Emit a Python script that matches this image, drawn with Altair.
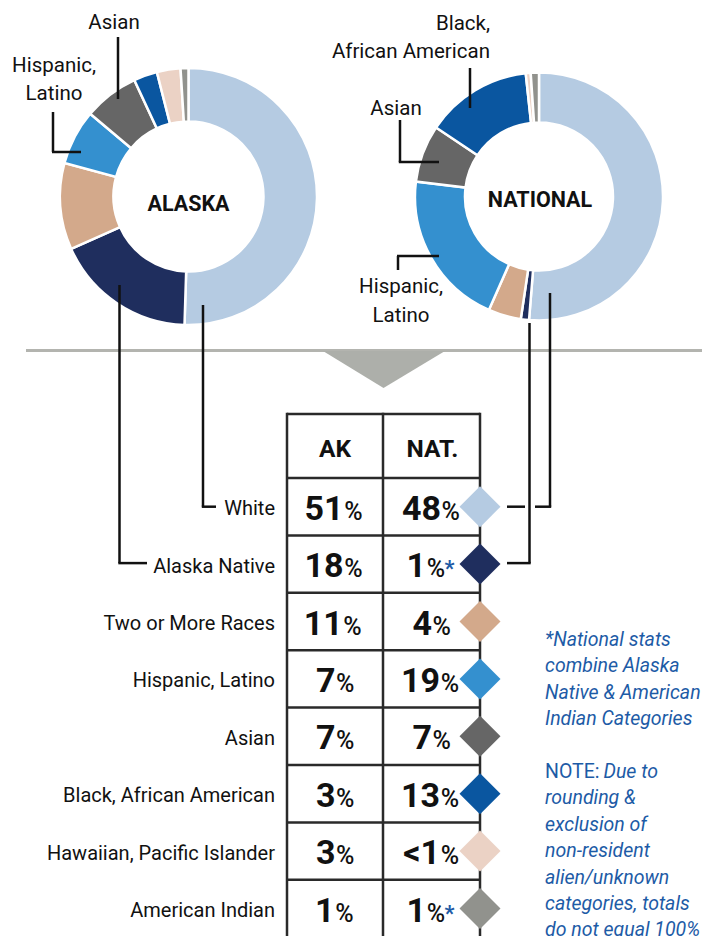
import altair as alt
import pandas as pd

# ---------------- data ----------------
races = ["White", "Alaska Native", "Two or More Races", "Hispanic, Latino", "Asian",
         "Black, African American", "Hawaiian, Pacific Islander", "American Indian"]
ak_pct = [51, 18, 11, 7, 7, 3, 3, 1]
nat_pct = [48, 1, 4, 19, 7, 13, 0.6, 1]
ak_text = ["51", "18", "11", "7", "7", "3", "3", "1"]
nat_text = ["48", "1", "4", "19", "7", "13", "<1", "1"]
nat_star = [False, True, False, False, False, False, False, True]
colors = ["#b5cbe2", "#1f2e5e", "#d3a98b", "#3490cf", "#666666", "#0a56a0", "#ebd2c5", "#91928d"]
headers = ["AK", "NAT."]
note_lines = ["*National stats", "combine Alaska", "Native & American", "Indian Categories", "",
              "NOTE: Due to", "rounding &", "exclusion of", "non-resident", "alien/unknown",
              "categories, totals", "do not equal 100%"]

# ---------------- style / layout ----------------
FONT = "Roboto, sans-serif"
INK = "#111111"
NOTE_BLUE = "#1d5ba6"
GRID = "#2a2a2a"

xs = alt.Scale(domain=[8, 702], nice=False, zero=False)
ys = alt.Scale(domain=[8, 936], reverse=True, nice=False, zero=False)
cs = alt.Scale(domain=races, range=colors)


def X(f):
    return alt.X(f, type="quantitative", scale=xs, axis=None)


def Y(f):
    return alt.Y(f, type="quantitative", scale=ys, axis=None)


def rules(segs, color=INK, width=2.5):
    df = pd.DataFrame(segs, columns=["x", "y", "x2", "y2"])
    return alt.Chart(df).mark_rule(color=color, strokeWidth=width).encode(
        x=X("x"), y=Y("y"), x2="x2:Q", y2="y2:Q")


def texts(rows, **mk):
    df = pd.DataFrame(rows, columns=["x", "y", "t"])
    mk.setdefault("font", FONT)
    mk.setdefault("color", INK)
    mk.setdefault("baseline", "alphabetic")
    return alt.Chart(df).mark_text(**mk).encode(x=X("x"), y=Y("y"), text="t:N")


layers = []

# separator and arrow
layers.append(rules([(26, 350.5, 706, 350.5)], color="#b3b4af", width=3))
tri = pd.DataFrame({"x": [323, 383.5, 445], "y": [351, 351, 351], "y2": [351, 388, 351]})
layers.append(alt.Chart(tri).mark_area(color="#adafaa").encode(x=X("x"), y=Y("y"), y2="y2:Q"))

# donuts
order = list(range(len(races)))
ak_df = pd.DataFrame({"race": races, "v": ak_pct, "o": order, "cx": 188.5, "cy": 196.5})
nat_df = pd.DataFrame({"race": races, "v": nat_pct, "o": order, "cx": 539, "cy": 196.5})
for df, r_in, r_out in [(ak_df, 75, 128.5), (nat_df, 74, 124)]:
    layers.append(alt.Chart(df).mark_arc(innerRadius=r_in, outerRadius=r_out,
                                         stroke="white", strokeWidth=2.5).encode(
        theta=alt.Theta("v:Q", stack=True),
        order=alt.Order("o:Q"),
        color=alt.Color("race:N", scale=cs, legend=None),
        x=X("cx"), y=Y("cy")))

# table
hdr_top, hdr_bot, row_h = 414, 478, 57.4
col_l, col_m, col_r = 287, 383, 480
ak_c, nat_c = (col_l + col_m) / 2, (col_m + col_r) / 2
row_c = [hdr_bot + row_h * (i + 0.5) for i in range(len(races))]
grid = [(col_l, hdr_top, col_r, hdr_top)]
grid += [(col_l, hdr_bot + row_h * i, col_r, hdr_bot + row_h * i) for i in range(len(races) + 1)]
grid += [(c, hdr_top - 1.2, c, 940) for c in (col_l, col_m, col_r)]
layers.append(rules(grid, color=GRID, width=2.5))

# leader lines
lead = [
    (118, 37, 118, 99),                       # AK Asian
    (53, 112, 53, 152), (52, 152, 81, 152),   # AK Hispanic
    (119.5, 285, 119.5, row_c[1] - 1), (118.3, row_c[1] - 1, 147, row_c[1] - 1),   # AK Alaska Native
    (203, 305, 203, row_c[0]), (201.8, row_c[0], 216, row_c[0]),                    # AK White
    (470, 68, 470, 108),                      # NAT Black
    (400, 120, 400, 162), (398.8, 162, 439, 162),   # NAT Asian
    (397, 256, 439, 256), (398, 256, 398, 270),     # NAT Hispanic
    (529.5, 323, 529.5, row_c[1] - 1), (507, row_c[1] - 1, 530.7, row_c[1] - 1),  # NAT Alaska Native
    (550, 293, 550, row_c[0]), (535, row_c[0], 551.2, row_c[0]), (507, row_c[0], 525, row_c[0]),  # NAT White
]
layers.append(rules(lead))

# diamonds
dia = pd.DataFrame({"race": races, "x": col_r, "y": row_c})
layers.append(alt.Chart(dia).mark_point(shape="diamond", filled=True, size=1681, opacity=1).encode(
    x=X("x"), y=Y("y"), color=alt.Color("race:N", scale=cs, legend=None)))

# donut labels
layers.append(texts([(188.5, 211, "ALASKA"), (540, 206.5, "NATIONAL")],
                    fontSize=21.5, fontWeight="bold", align="center"))
layers.append(texts([(114, 28.5, "Asian"), (54, 71.5, "Hispanic,"), (54, 100, "Latino"),
                     (396, 114.5, "Asian"), (401, 293, "Hispanic,"), (401, 322, "Latino")],
                    fontSize=20.5, align="center"))
layers.append(texts([(490, 29.5, "Black,"), (490, 58, "African American")], fontSize=20.5, align="right"))

# header
layers.append(texts([(ak_c, 456.5, headers[0]), (nat_c + 1, 456.5, headers[1])],
                    fontSize=24.5, fontWeight="bold", align="center"))

# row labels
layers.append(texts([(275, c + 8.5, r) for r, c in zip(races, row_c)], fontSize=20, align="right"))

# numbers + percent signs
NUM_FS, PCT_FS = 34, 25
DIG_W, PCT_W, STAR_W = 0.53 * NUM_FS, 0.68 * PCT_FS, 10


def numw(s):
    return sum(DIG_W * (0.9 if ch == "1" else 1.0) for ch in s)


num_rows, pct_rows, star_rows = [], [], []
for i, c in enumerate(row_c):
    for center, s, star in [(ak_c, ak_text[i], False), (nat_c, nat_text[i], nat_star[i])]:
        w = numw(s)
        anchor = center + (w - PCT_W - (STAR_W if star else 0)) / 2
        num_rows.append((anchor, c + 13, s))
        pct_rows.append((anchor + 0.6, c + 13, "%"))
        if star:
            star_rows.append((anchor + PCT_W + 1.5, c + 12, "*"))
layers.append(texts(num_rows, fontSize=NUM_FS, fontWeight="bold", align="right"))
layers.append(texts(pct_rows, fontSize=PCT_FS, fontWeight=500, align="left"))
layers.append(texts(star_rows, fontSize=22, fontWeight="bold", align="left", color=NOTE_BLUE))

# notes
note_x, note_y0, note_dy = 545, 646, 26.4
ital, norm = [], []
for i, line in enumerate(note_lines):
    y = note_y0 + note_dy * i
    if not line:
        continue
    if line.startswith("NOTE:"):
        norm.append((note_x, y, "NOTE:"))
        ital.append((note_x + 58.5, y, line[len("NOTE: "):]))
    else:
        ital.append((note_x, y, line))
layers.append(texts(norm, fontSize=19.5, align="left", color=NOTE_BLUE))
layers.append(texts(ital, fontSize=19.5, fontStyle="italic", align="left", color=NOTE_BLUE))

chart = alt.layer(*layers).resolve_scale(theta="independent").properties(
    width=694, height=928, padding=0, autosize=alt.AutoSizeParams(type="none")
).configure_view(stroke=None)

chart.save("out.html", embed_options={"renderer": "svg", "actions": False})
